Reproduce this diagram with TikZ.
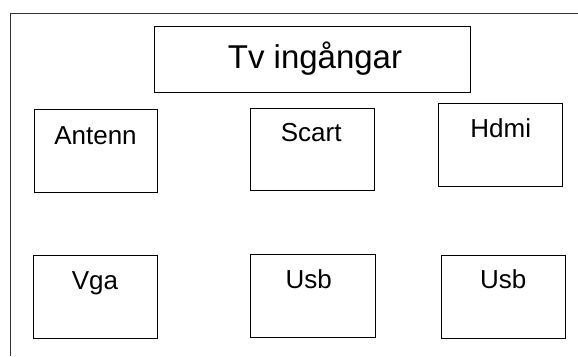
\documentclass[tikz,border=0pt]{standalone}
\usepackage{fontspec}
\setmainfont{Liberation Sans}
\begin{document}
\begin{tikzpicture}[x=1pt,y=-1pt,
  box/.style={draw=black,line width=1pt,rectangle,inner sep=0pt},
  lbl/.style={anchor=base,inner sep=0pt,font=\fontsize{26}{30}\selectfont},
  ttl/.style={anchor=base,inner sep=0pt,font=\fontsize{33}{38}\selectfont}]
\useasboundingbox (0,0) rectangle (578,356);
\coordinate (ftl) at (10,13.5);
\coordinate (ftr) at (578,13.5);
\coordinate (fbl) at (10,356);
\draw[line width=1pt,black!80] (ftr) -- (ftl) -- (fbl);
\node[box,minimum width=316pt,minimum height=66pt] (title) at (312,59.7) {};
\node[ttl] (titletext) at (315,68.3) {Tv ingångar};
\node[box,minimum width=123.3pt,minimum height=83pt] (antenn) at (95.7,150.8) {};
\node[lbl] (antenntext) at (95.5,144.3) {Antenn};
\node[box,minimum width=124.3pt,minimum height=82.4pt] (scart) at (312.2,149.5) {};
\node[lbl] (scarttext) at (311.2,141.7) {Scart};
\node[box,minimum width=124.4pt,minimum height=82.7pt] (hdmi) at (500.5,145.3) {};
\node[lbl] (hdmitext) at (500.7,137.7) {Hdmi};
\node[box,minimum width=124pt,minimum height=83.3pt] (vga) at (95.3,296.7) {};
\node[lbl] (vgatext) at (95,289.3) {Vga};
\node[box,minimum width=125pt,minimum height=82.7pt] (usba) at (312.5,296.3) {};
\node[lbl] (usbatext) at (308.7,288.3) {Usb};
\node[box,minimum width=124pt,minimum height=83pt] (usbb) at (503.7,296.5) {};
\node[lbl] (usbbtext) at (503.3,288.5) {Usb};
\end{tikzpicture}
\end{document}
